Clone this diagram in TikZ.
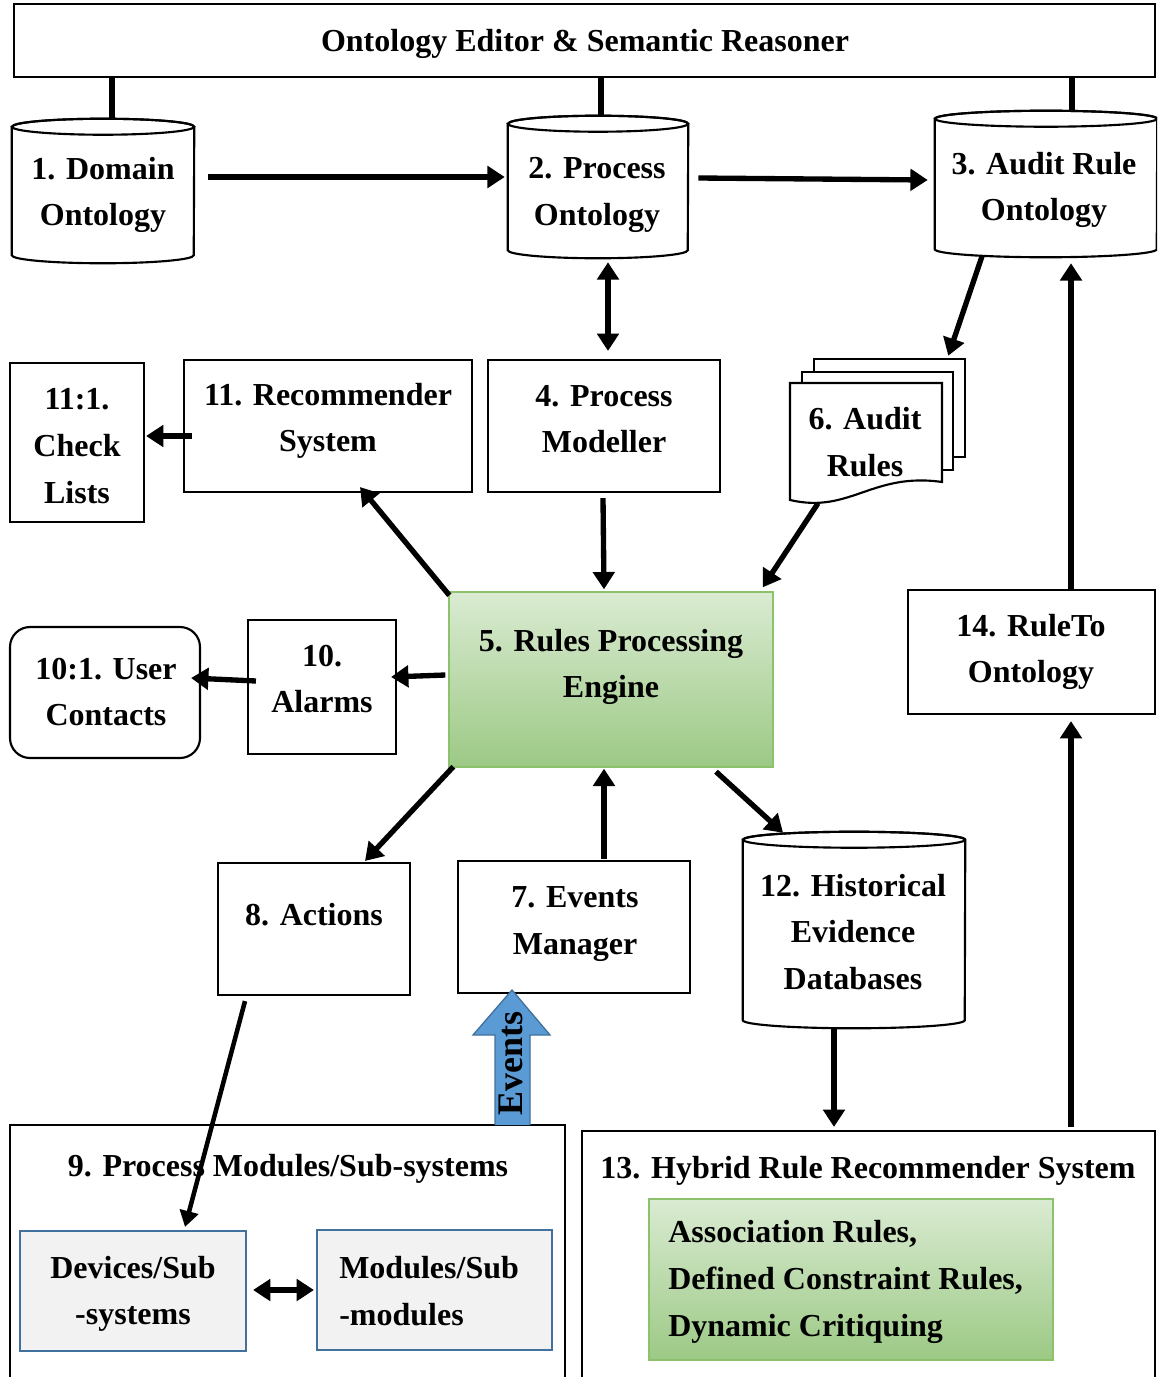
\documentclass[tikz,border=0pt]{standalone}
\usepackage{fontspec}
\setmainfont{Liberation Serif}
\usetikzlibrary{arrows.meta,calc}

\definecolor{gtop}{HTML}{DAEBD2}
\definecolor{gbot}{HTML}{9CC985}
\definecolor{gline}{HTML}{8CC26C}
\definecolor{bluefill}{HTML}{5B9BD5}
\definecolor{blueline}{HTML}{41719C}
\definecolor{greybox}{HTML}{F2F2F2}

% cylinder outline around a (text-free) body node: #1 node, #2 half width
\newcommand\drawcyl[2]{%
  \filldraw[line width=1.6pt, fill=white] (#1.north west) -- (#1.south west)
    arc[start angle=180, end angle=360, x radius=#2, y radius=6pt]
    -- (#1.north east)
    arc[start angle=0, end angle=180, x radius=#2, y radius=6pt] -- cycle;
  \draw[line width=1.6pt] (#1.north) ellipse [x radius=#2, y radius=6pt];
}

\begin{document}
\begin{tikzpicture}[x=0.75pt,y=-0.75pt,
  wh/.style 2 args={minimum width=#1*0.75pt, minimum height=#2*0.75pt},
  box/.style={draw, line width=1.6pt, inner sep=0pt, fill=white},
  body/.style={inner sep=0pt},
  txt/.style={font=\fontsize{24}{35}\selectfont\bfseries, align=center, inner sep=0pt},
  arr/.style={line width=4pt, -{Triangle[length=13pt,width=16pt]}},
  darr/.style={line width=4pt, {Triangle[length=13pt,width=16pt]}-{Triangle[length=13pt,width=16pt]}},
  thinarr/.style={line width=3.4pt, -{Triangle[length=12pt,width=14pt]}},
  link/.style={line width=4pt},
  greenbox/.style={draw=gline, line width=1pt, top color=gtop, bottom color=gbot, inner sep=0pt},
  devbox/.style={draw=blueline, line width=1.6pt, fill=greybox, inner sep=0pt},
]
\clip (0,0) rectangle (1157,1377);
\fill[white] (0,0) rectangle (1157,1377);

% ---------- top bar ----------
\node[box, wh={1141}{73}] (top) at (584.5,40.5) {};
\node[txt] (topt) at (585,44) {Ontology Editor \& Semantic Reasoner};

% ---------- ontologies (cylinders) ----------
\node[body, wh={182}{128}] (d1) at (103,191) {};
\node[body, wh={180}{126}] (d2) at (598,187) {};
\node[body, wh={222}{130}] (d3) at (1046,184) {};
\drawcyl{d1}{68.25pt}
\drawcyl{d2}{67.5pt}
\drawcyl{d3}{83.25pt}
\node[txt] (d1t) at (103,195) {1. Domain\\Ontology};
\node[txt] (d2t) at (597,195) {2. Process\\Ontology};
\node[txt] (d3t) at (1044,190) {3. Audit Rule\\Ontology};

% links from the editor bar
\path ($(d1.north)+(9,-8)$) coordinate (c1)
      ($(d2.north)+(3,-8)$) coordinate (c2)
      ($(d3.north)+(26,-8)$) coordinate (c3);
\draw[link] (c1 |- top.south) -- (c1);
\draw[link] (c2 |- top.south) -- (c2);
\draw[link] (c3 |- top.south) -- (c3);

% ---------- second row ----------
\node[box, wh={134}{159}] (n111) at (77,442.5) {};
\node[txt] (n111t) at (77,446) {11:1.\\Check\\Lists};
\node[box, wh={288}{132}] (n11) at (328,426) {};
\node[txt] (n11t) at (328,421) {11. Recommender\\System};
\node[box, wh={232}{132}] (n4) at (604,426) {};
\node[txt] (n4t) at (604,419) {4. Process\\Modeller};

% audit rules: stacked documents
\draw[line width=1.6pt, fill=white] (814,359) rectangle (965,457);
\draw[line width=1.6pt, fill=white] (802,372) rectangle (953,470);
\draw[line width=1.6pt, fill=white] (790,383) -- (942,383) -- (942,482)
  .. controls (872,472) and (850,514) .. (790,500) -- cycle;
\node[body, wh={152}{107}] (n6) at (866,436.5) {};
\node[txt] (n6t) at (865,442) {6. Audit\\Rules};

% ---------- engine row ----------
\node[greenbox, wh={324}{175}] (n5) at (611,679.5) {};
\node[txt] (n5t) at (611,667) {5. Rules Processing\\Engine};
\node[box, wh={148}{134}] (n10) at (322,687) {};
\node[txt] (n10t) at (322,679) {10.\\Alarms};
\node[box, rounded corners=15pt, wh={190}{131}] (n101) at (105,692.5) {};
\node[txt] (n101t) at (106,692) {10:1. User\\Contacts};
\node[box, wh={247}{124}] (n14) at (1031.5,652) {};
\node[txt] (n14t) at (1031,652) {14. RuleTo\\Ontology};

% ---------- lower row ----------
\node[box, wh={192}{132}] (n8) at (314,929) {};
\node[txt] (n8t) at (314,915) {8. Actions};
\node[box, wh={232}{132}] (n7) at (574,927) {};
\node[txt] (n7t) at (575,924) {7. Events\\Manager};
\node[body, wh={222}{180}] (n12) at (854,930) {};
\drawcyl{n12}{83.25pt}
\node[txt] (n12t) at (853,932) {12. Historical\\Evidence\\Databases};

% ---------- bottom containers ----------
\node[box, wh={555}{265}] (n9) at (287.5,1257.5) {};
\node[txt] (n9t) at (288,1169) {9. Process Modules/Sub-systems};
\node[devbox, wh={226}{120}] (ndev) at (133,1291) {};
\node[txt] (ndevt) at (133,1294) {Devices/Sub\\-systems};
\node[devbox, wh={235}{120}] (nmod) at (434.5,1290) {};
\node[txt, align=left, anchor=west] (nmodt) at (339,1291) {Modules/Sub\\-modules};

\node[box, wh={573}{259}] (n13) at (868.5,1260.5) {};
\node[txt] (n13t) at (868,1171) {13. Hybrid Rule Recommender System};
\node[greenbox, wh={404}{161}] (ngr) at (851,1279.5) {};
\node[txt, align=left, anchor=west] (ngrt) at (668,1282) {Association Rules,\\Defined Constraint Rules,\\Dynamic Critiquing};

% events block arrow
\draw[draw=blueline, fill=bluefill, line width=1pt] (495,1125) -- (495,1035) -- (473,1035)
  -- (512,990) -- (550,1035) -- (530,1035) -- (530,1125);
\node[font=\fontsize{27}{30}\selectfont\bfseries, rotate=90, inner sep=0pt] (evt) at (511,1063) {Events};

% ---------- connectors ----------
\draw[arr] ($(d1.east)+(14,-14)$) -- ($(d2.west)+(-3,-10)$);
\draw[arr] ($(d2.east)+(10,-9)$) -- ($(d3.west)+(-7,-4)$);
\draw[darr] ($(d2.south)+(10,12)$) -- ($(n4.north)+(4,-8)$);
\draw[arr] ($(d3.south)+(-64,7)$) -- ($(n6.north east)+(6,-27)$);
\draw[arr] ($(n11.west)+(9,10)$) -- ($(n111.east)+(1,-6.5)$);
\draw[arr] ($(n5.north west)+(1,4)$) -- ($(n11.south)+(32,-6)$);
\draw[arr] ($(n4.south)+(-1,5)$) -- ($(n5.north)+(-7,-2)$);
\draw[arr] ($(n6.south)+(-48,13)$) -- ($(n5.north east)+(-11,-4)$);
\draw[arr] ($(n5.west)+(-3,-4.5)$) -- ($(n10.east)+(-6,-10)$);
\draw[arr] ($(n10.west)+(9,-6)$) -- ($(n101.east)+(-10,-14.5)$);
\draw[arr] ($(n14.north)+(39.5,0)$) -- ($(d3.south)+(25,14)$);
\draw[arr] ($(n13.north)+(202.5,-3)$) -- ($(n14.south)+(39.5,6)$);
\draw[arr] ($(n5.south west)+(5,-1)$) -- ($(n8.north)+(51,-1)$);
\draw[arr] ($(n7.north)+(30,-1)$) -- ($(n5.south)+(-7,1)$);
\draw[arr] ($(n5.south)+(105,4)$) -- ($(n12.north)+(-71,-7)$);
\draw[arr] ($(n12.south)+(-20,8)$) -- ($(n13.north)+(-34.5,-3)$);
\draw[thinarr] ($(n8.south)+(-69,5)$) -- ($(ndev.north)+(52,-3)$);
\draw[darr] ($(ndev.east)+(6,-1)$) -- ($(nmod.west)+(-2,0)$);

\useasboundingbox (0,0) rectangle (1157,1377);
\end{tikzpicture}
\end{document}
